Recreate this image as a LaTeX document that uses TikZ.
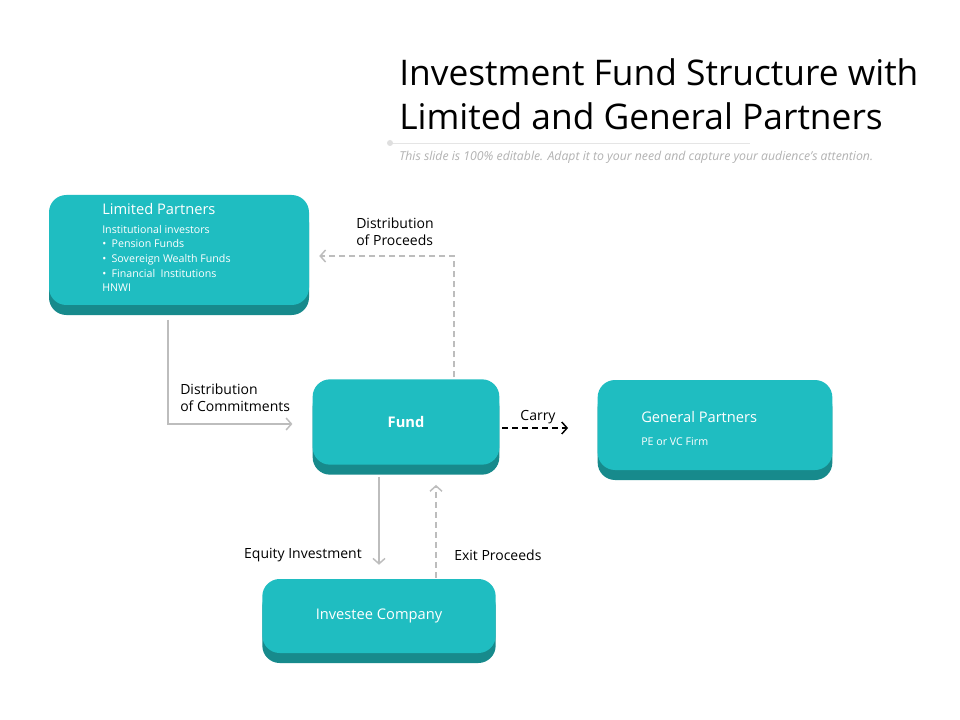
\documentclass[tikz,border=0pt]{standalone}
\usepackage{fontspec}
\setmainfont{Open Sans}
\usepackage{xcolor}
\usetikzlibrary{arrows.meta, positioning, shadows}
\definecolor{tealbox}{HTML}{1FBDC1}
\definecolor{tealdark}{HTML}{178A8C}
\definecolor{linegray}{HTML}{BDBDBD}
\tikzset{
  box/.style={fill=tealbox, rounded corners=13pt, inner sep=0pt,
    general shadow={fill=tealdark, shadow yshift=-7.5pt}},
  boxtext/.style={text=white, font=\fontsize{8}{11}\selectfont, align=left, inner sep=0pt},
  flow/.style={linegray, line width=1.1pt, -{Straight Barb[length=4pt,width=9pt]}},
  dashline/.style={dash pattern=on 4.5pt off 3pt},
  label/.style={font=\fontsize{10.5}{12.5}\selectfont, align=left, inner sep=0pt}
}
\begin{document}
\begin{tikzpicture}[x=0.75pt, y=-0.75pt]
        \useasboundingbox[fill=white] (0,0) rectangle (960,720);

        % Title
        \node[anchor=west, font=\fontsize{26.5}{33}\selectfont, align=left, inner sep=0pt] (title) at (399,94)
          {Investment Fund Structure with\\Limited and General Partners};
        \draw[gray!20, line width=0.6pt] (390,143) -- (750,143);
        \fill[gray!25] (390,143) circle (3);
        \node[anchor=west, text=gray!60, font=\fontsize{9.2}{11}\itshape, inner sep=0pt] (subtitle) at (399,157)
          {This slide is 100\% editable. Adapt it to your need and capture your audience's attention.};

        % Boxes
        \node[box, minimum width=195pt, minimum height=82.5pt] (lp) at (179,250) {};
        \node[box, minimum width=140pt, minimum height=64pt] (fund) at (406,422) {};
        \node[box, minimum width=176pt, minimum height=67.5pt] (gp) at (715,425) {};
        \node[box, minimum width=175pt, minimum height=55.5pt] (inv) at (379,616) {};

        % Box texts
        \node[boxtext, anchor=north west] (lptext) at (102,203)
          {{\fontsize{11}{14}\selectfont Limited Partners}\\[3pt]
           Institutional investors\\
           \textbullet\enspace Pension Funds\\
           \textbullet\enspace Sovereign Wealth Funds\\
           \textbullet\enspace Financial\enspace Institutions\\
           HNWI};
        \node[boxtext, font=\fontsize{11}{14}\bfseries] (fundtext) at (fund) {Fund};
        \node[boxtext, anchor=west, font=\fontsize{11}{14}\selectfont] (gptitle) at (641,417) {General Partners};
        \node[boxtext, anchor=west] (gpsub) at (641,442) {PE or VC Firm};
        \node[boxtext, font=\fontsize{11}{14}\selectfont] (invtext) at (inv) {Investee Company};

        % Connectors
        \coordinate (commit) at ([xshift=-8.25pt, yshift=-11pt]lp.south);
        \draw[flow, shorten >=15pt] (commit) |- ([yshift=-1.5pt]fund.west);
        \draw[flow, dashline, shorten >=7.5pt] ([xshift=36pt, yshift=1.5pt]fund.north) |- ([yshift=-4.5pt]lp.east);
        \draw[black, line width=1.1pt, dashline, -{Straight Barb[length=4pt,width=9pt]}, shorten <=2pt, shorten >=22pt]
          ([yshift=-4.5pt]fund.east) -- ([yshift=-4.5pt]fund.east -| gp.west);
        \draw[flow, shorten <=9pt, shorten >=10.5pt] (fund.south -| inv.north) -- (inv.north);
        \coordinate (exit) at ([xshift=42.75pt, yshift=0.75pt]inv.north);
        \draw[flow, dashline, shorten >=15pt] (exit) -- (exit |- fund.south);

        % Labels
        \node[label, anchor=north west] (lblproceeds) at (356,218) {Distribution\\of Proceeds};
        \node[label, anchor=north west] (lblcommit) at (180,384) {Distribution\\of Commitments};
        \node[label] (lblcarry) at (538,417) {Carry};
        \node[label, anchor=east] (lblequity) at (362,555) {Equity Investment};
        \node[label, anchor=west] (lblexit) at (454,555) {Exit Proceeds};
\end{tikzpicture}
\end{document}
